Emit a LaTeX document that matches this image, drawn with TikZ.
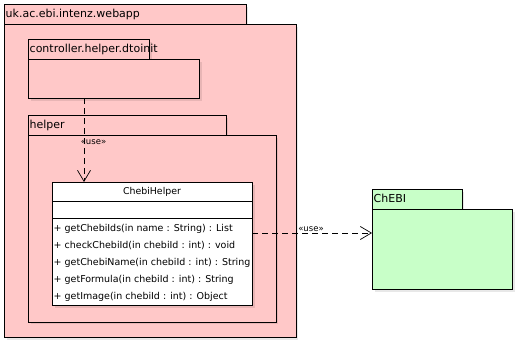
\documentclass[tikz,border=0pt]{standalone}
\usepackage{fontspec}
\setmainfont{DejaVu Sans}
\usetikzlibrary{arrows.meta,shadows}
\definecolor{pkgpink}{HTML}{FFC8C8}
\definecolor{pkggreen}{HTML}{C8FFC8}
\tikzset{line width=.8pt,
  every node/.style={font=\fontsize{9.4}{11}\selectfont},
  boxshadow/.style={drop shadow={shadow xshift=2.5pt,shadow yshift=-2.5pt,fill=black,opacity=.09}},
  pkgtab/.style={draw,anchor=north west,inner xsep=1.5pt,inner ysep=0pt,boxshadow,
    font=\fontsize{11}{13}\selectfont,text height=8.5pt,text depth=2.5pt,align=left},
  pkgbody/.style={draw,anchor=north west,inner sep=0pt,boxshadow},
  classbox/.style={draw,fill=white,anchor=north west,inner sep=0pt,boxshadow},
  optext/.style={anchor=west,inner sep=0pt,font=\fontsize{9.5}{11}\selectfont},
  usetag/.style={font=\fontsize{8.5}{9}\selectfont,inner sep=1pt},
  uses/.style={draw,dash pattern=on 6pt off 4pt,line width=.7pt,
    -{Straight Barb[length=11pt,width=13pt,line width=.7pt]}}}
\begin{document}
\begin{tikzpicture}[x=1pt,y=-1pt]
\useasboundingbox (0,0) rectangle (516,342);
% uk.ac.ebi.intenz.webapp
\node[pkgtab,fill=pkgpink,minimum width=241.5,minimum height=20,text width=238.5] (webapptab) at (4,4) {uk.ac.ebi.intenz.webapp};
\node[pkgbody,fill=pkgpink,minimum width=291.5,minimum height=313] (webapp) at (4,24) {};
% controller.helper.dtoinit
\node[pkgtab,fill=pkgpink,minimum width=121,minimum height=20,text width=118] (dtoinittab) at (28,39) {controller.helper.dtoinit};
\node[pkgbody,fill=pkgpink,minimum width=171,minimum height=39] (dtoinit) at (28,59) {};
% helper
\node[pkgtab,fill=pkgpink,minimum width=197.5,minimum height=20,text width=194.5] (helpertab) at (28,115) {helper};
\node[pkgbody,fill=pkgpink,minimum width=247.5,minimum height=186.5] (helper) at (28,135) {};
% ChebiHelper class
\node[classbox,minimum width=200,minimum height=123] (chebihelper) at (52,182) {};
\node (classname) at (152,191.5) {ChebiHelper};
\draw[line width=.7pt] (52,201) -- (252,201) (52,218) -- (252,218);
\foreach \op [count=\i] in {+ getChebiIds(in name : String) : List,
  + checkChebiId(in chebiId : int) : void,
  + getChebiName(in chebiId : int) : String,
  + getFormula(in chebiId : int) : String,
  + getImage(in chebiId : int) : Object}
  \node[optext] (op\i) at (53.5,{212+17*\i}) {\op};
% ChEBI
\node[pkgtab,fill=pkggreen,minimum width=89.5,minimum height=20,text width=86.5] (chebitab) at (372,189) {ChEBI};
\node[pkgbody,fill=pkggreen,minimum width=140,minimum height=80] (chebi) at (372,209) {};
% dependencies
\draw[uses] (dtoinit.south west) ++(56,0) coordinate (u1) -- (u1 |- chebihelper.north)
  node[usetag,pos=.52,xshift=9.5pt] {«use»};
\draw[uses] (chebihelper.north east) ++(0,51) coordinate (u2) -- (u2 -| chebi.west)
  node[usetag,pos=.49,above] {«use»};
\end{tikzpicture}
\end{document}
